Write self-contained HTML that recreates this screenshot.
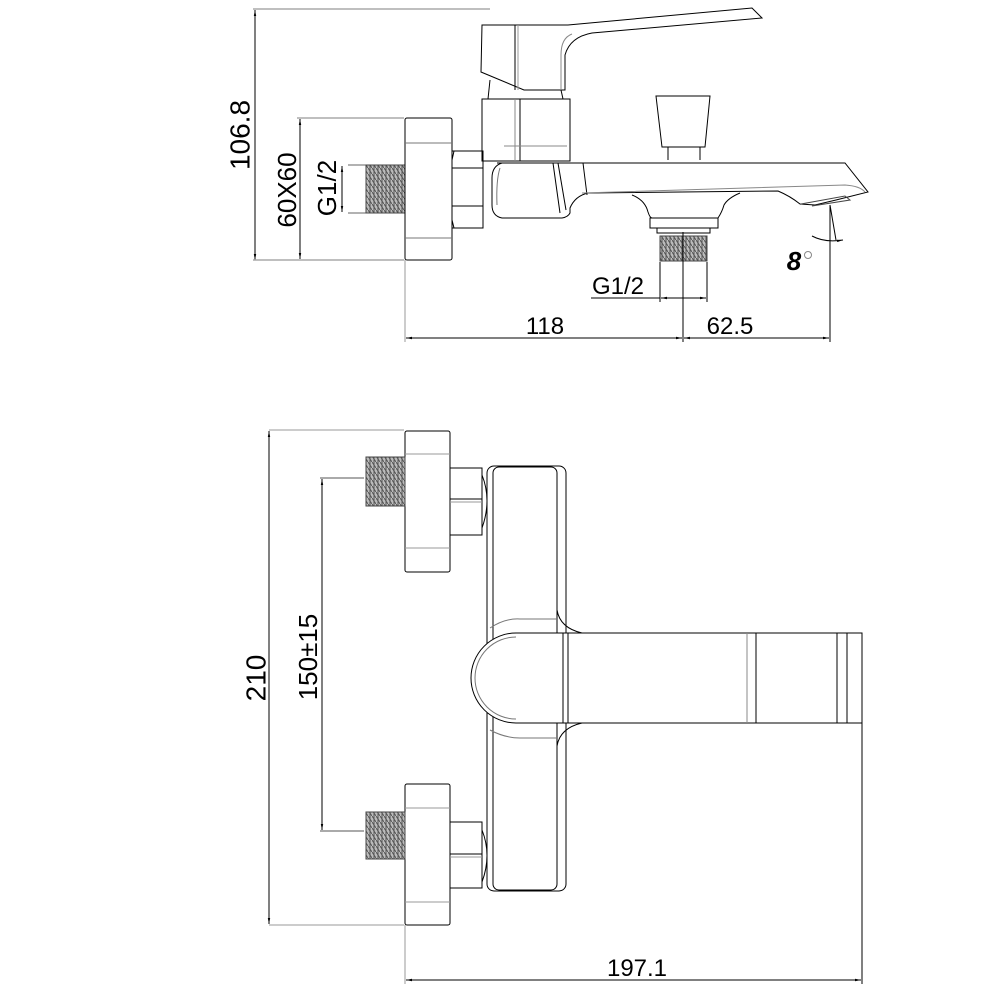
<!DOCTYPE html>
<html><head><meta charset="utf-8"><style>
html,body{margin:0;padding:0;background:#fff}
svg{display:block}
text{font-family:"Liberation Sans",Arial,sans-serif;fill:#000}
</style></head><body>
<svg width="1001" height="1000" viewBox="0 0 1001 1000" xmlns="http://www.w3.org/2000/svg">
<defs>
<pattern id="thr" width="4" height="6" patternUnits="userSpaceOnUse">
<rect width="4" height="6" fill="#bbb"/><path d="M0 0 L4 6 M2 0 L2 6" stroke="#555" stroke-width="1"/>
</pattern>
<marker id="a" viewBox="0 0 10 10" refX="10" refY="5" markerWidth="6" markerHeight="6" orient="auto-start-reverse"><path d="M0 3 L10 5 L0 7z" fill="#000"/></marker>
</defs>
<g fill="none" stroke="#000" stroke-width="1">
<!-- ===== TOP VIEW ===== -->
<line x1="253" y1="9" x2="490" y2="9" stroke="#aaa" stroke-width="1.5"/>
<line x1="255" y1="10" x2="255" y2="260" marker-start="url(#a)" marker-end="url(#a)"/>
<line x1="253" y1="260" x2="404" y2="260" stroke="#aaa" stroke-width="1.5"/>
<line x1="297" y1="118" x2="404" y2="118" stroke="#aaa" stroke-width="1.5"/>
<line x1="300" y1="119" x2="300" y2="259" marker-start="url(#a)" marker-end="url(#a)"/>
<line x1="348" y1="165" x2="367" y2="165" stroke="#666"/>
<line x1="348" y1="213" x2="367" y2="213" stroke="#666"/>
<line x1="342" y1="166" x2="342" y2="212" marker-start="url(#a)" marker-end="url(#a)"/>
<rect x="366" y="165" width="39" height="48" fill="url(#thr)" stroke="#444"/>
<rect x="405" y="118" width="47" height="142" rx="2"/>
<line x1="405" y1="143" x2="452" y2="143" stroke="#777"/>
<line x1="405" y1="238" x2="452" y2="238" stroke="#777"/>
<line x1="405" y1="260" x2="405" y2="342" stroke="#999"/>
<path d="M452 151 H483 V228 H452 Z"/>
<path d="M454 151 L452 160 V220 L454 228"/>
<line x1="452" y1="168" x2="483" y2="168"/><line x1="452" y1="206" x2="483" y2="206"/>
<rect x="482" y="99" width="88" height="62"/>
<line x1="515" y1="99" x2="515" y2="161" stroke="#888"/>
<line x1="520" y1="99" x2="520" y2="161"/>
<line x1="504" y1="146" x2="567" y2="146" stroke="#888"/>
<path d="M482 25 H568 L752 8 L762 18 L592 33 Q570 37 565 55 V90 H524 L481 72 Z"/>
<line x1="515" y1="25" x2="515" y2="90"/>
<line x1="518" y1="25" x2="518" y2="90" stroke="#999"/>
<path d="M572 34 Q561 38 561 55 V90" stroke="#888"/>
<path d="M490 80 L488 99 M561 90 L563 99"/>
<path d="M497 163 H845 L868 192 L836 200 L815 205 L800 204 Q790 196 778 191 L588 193 Q575 196 570 208 V213 Q568 217 562 218 H502 Q492 216 492 205 V178 Q492 166 502 163"/>
<path d="M500 168 Q496 180 497 205" stroke="#777"/>
<path d="M553 163 L560 213 M558 163 L566 210 M583 163 L587 195"/>
<path d="M582 193 L845 185 Q860 186 865 192" stroke="#888"/>
<path d="M801 204 L845 196 L850 200 L812 206" stroke="#444"/>
<path d="M656 96 H710 L705 147 H662 Z"/>
<path d="M668 147 V160 M700 147 V160"/>
<path d="M632 195 Q645 200 648 212 Q650 218 652 218 H718 Q722 212 724 205 Q728 198 740 193"/>
<rect x="650" y="218" width="68" height="10"/>
<rect x="657" y="228" width="53" height="5"/>
<rect x="660" y="236" width="47" height="25" fill="url(#thr)" stroke="#444"/>
<line x1="683" y1="232" x2="683" y2="342"/>
<line x1="660" y1="262" x2="660" y2="302"/>
<line x1="707" y1="262" x2="707" y2="302"/>
<line x1="591" y1="298" x2="660" y2="298"/>
<line x1="661" y1="298" x2="706" y2="298" marker-start="url(#a)" marker-end="url(#a)"/>
<line x1="830" y1="205" x2="830" y2="342"/>
<line x1="830" y1="205" x2="836" y2="240"/>
<path d="M812 236 Q825 243 843 240" marker-end="url(#a)"/>
<circle cx="808" cy="255" r="3.5" stroke="#888"/>
<line x1="406" y1="338" x2="682" y2="338" marker-start="url(#a)" marker-end="url(#a)"/>
<line x1="684" y1="338" x2="829" y2="338" marker-start="url(#a)" marker-end="url(#a)"/>

<!-- ===== FRONT VIEW ===== -->
<line x1="269" y1="430" x2="404" y2="430" stroke="#999"/>
<line x1="269" y1="925" x2="404" y2="925" stroke="#999"/>
<line x1="269" y1="431" x2="269" y2="924" marker-start="url(#a)" marker-end="url(#a)"/>
<line x1="320" y1="478" x2="364" y2="478" stroke="#555"/>
<line x1="320" y1="831" x2="364" y2="831" stroke="#555"/>
<line x1="322" y1="479" x2="322" y2="830" marker-start="url(#a)" marker-end="url(#a)"/>
<line x1="405" y1="925" x2="405" y2="984" stroke="#999"/>
<line x1="862" y1="723" x2="862" y2="984"/>
<line x1="406" y1="980" x2="861" y2="980" marker-start="url(#a)" marker-end="url(#a)"/>
<rect x="405" y="431" width="45" height="141" rx="2"/>
<line x1="405" y1="454" x2="450" y2="454" stroke="#999"/>
<line x1="405" y1="548" x2="450" y2="548" stroke="#999"/>
<rect x="366" y="457" width="39" height="49" fill="url(#thr)" stroke="#444"/>
<rect x="450" y="468" width="32" height="67"/>
<line x1="450" y1="499" x2="482" y2="499"/><line x1="450" y1="502" x2="482" y2="502" stroke="#999"/>
<path d="M482 475 Q492 500 482 528"/>
<rect x="405" y="784" width="45" height="141" rx="2"/>
<line x1="405" y1="808" x2="450" y2="808" stroke="#999"/>
<line x1="405" y1="902" x2="450" y2="902" stroke="#999"/>
<rect x="366" y="812" width="39" height="47" fill="url(#thr)" stroke="#444"/>
<rect x="450" y="822" width="32" height="66"/>
<line x1="450" y1="854" x2="482" y2="854"/><line x1="450" y1="857" x2="482" y2="857" stroke="#999"/>
<path d="M482 830 Q492 855 482 882"/>
<rect x="487" y="466" width="79" height="425" rx="7"/>
<rect x="493" y="467" width="64" height="423" rx="6"/>
<path d="M516 633 H862 V723 H516 A45 45 0 0 1 516 633 Z" fill="#fff"/>
<path d="M516 637 A41 41 0 0 0 516 719" stroke="#777"/>
<path d="M557 610 Q560 628 582 633 M557 746 Q560 728 582 723"/>
<path d="M490 628 Q505 618 520 619 H557 M490 730 Q505 738 520 738 H557" stroke="#777"/>
<line x1="563" y1="633" x2="563" y2="723"/><line x1="568" y1="633" x2="568" y2="723"/>
<line x1="747" y1="633" x2="747" y2="723" stroke="#888"/><line x1="756" y1="633" x2="756" y2="723"/>
<line x1="837" y1="633" x2="837" y2="723"/><line x1="847" y1="633" x2="847" y2="723"/>
</g>
<g>
<text x="240" y="135" font-size="28" text-anchor="middle" dominant-baseline="central" transform="rotate(-90 240 135)">106.8</text>
<text x="287" y="190" font-size="26" text-anchor="middle" dominant-baseline="central" transform="rotate(-90 287 190)">60X60</text>
<text x="327" y="188" font-size="26" text-anchor="middle" dominant-baseline="central" transform="rotate(-90 327 188)">G1/2</text>
<text x="618" y="294" font-size="24" text-anchor="middle">G1/2</text>
<text x="545" y="334" font-size="24" text-anchor="middle">118</text>
<text x="730" y="334" font-size="24" text-anchor="middle">62.5</text>
<text x="794" y="270" font-size="26" text-anchor="middle" font-style="italic" font-weight="bold">8</text>
<text x="256" y="678" font-size="28" text-anchor="middle" dominant-baseline="central" transform="rotate(-90 256 678)">210</text>
<text x="308" y="657" font-size="26" text-anchor="middle" dominant-baseline="central" transform="rotate(-90 308 657)">150±15</text>
<text x="637" y="976" font-size="24" text-anchor="middle">197.1</text>
</g>
</svg>
</body></html>
